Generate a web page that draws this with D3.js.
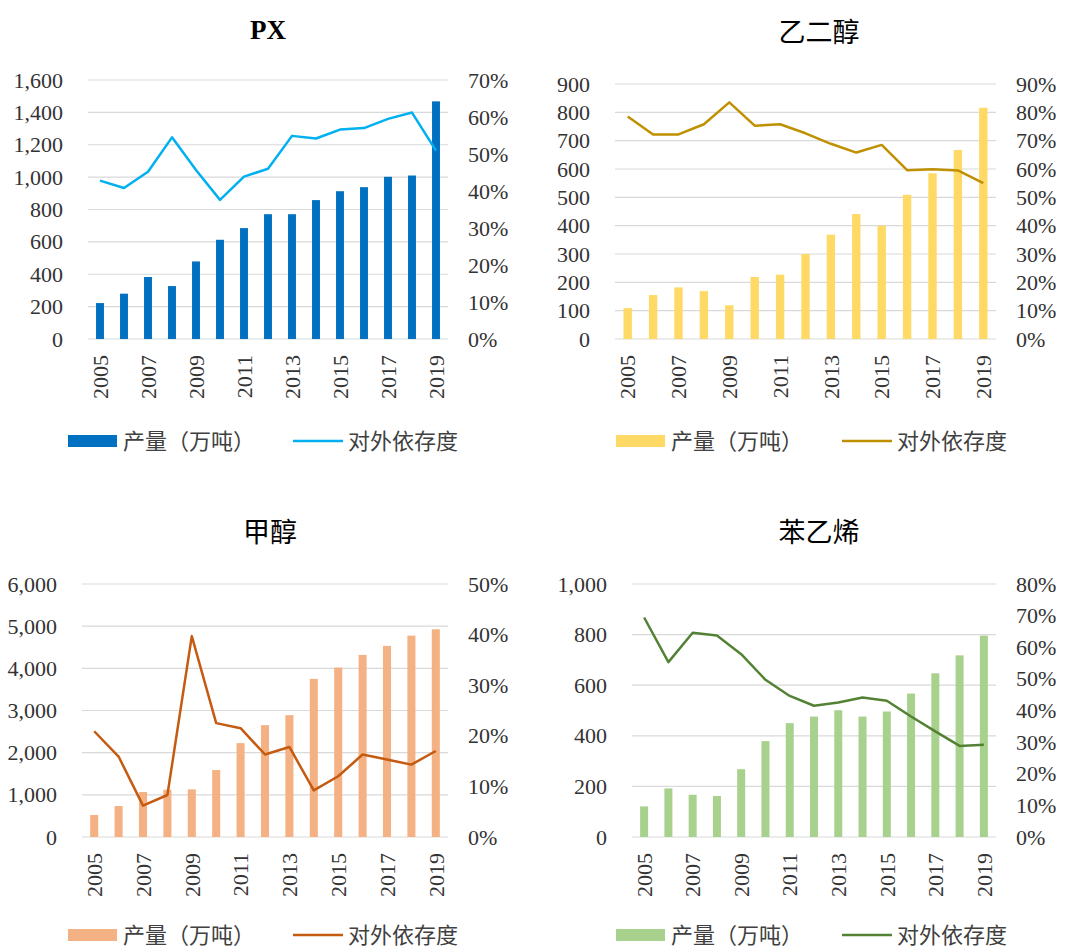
<!DOCTYPE html>
<html>
<head>
<meta charset="utf-8">
<script src="https://cdn.jsdelivr.net/npm/d3@7/dist/d3.min.js"></script>
<style>
  body { margin: 0; background: #fff; }
</style>
</head>
<body>
<svg id="chart"></svg>
<script>
// Years on the category axis
const YEARS = d3.range(2005, 2020);
const YEAR_LABELS = ['2005', '2007', '2009', '2011', '2013', '2015', '2017', '2019'];

// Output (10k tonnes) and import dependence (%) for each product
const pxOutput = [222, 280, 383, 327, 479, 613, 685, 771, 771, 858, 913, 938, 1002, 1010, 1468];
const pxDependence = [42.8, 40.8, 45.2, 54.5, 45.7, 37.6, 43.9, 46.0, 54.9, 54.2, 56.6, 57.0, 59.5, 61.2, 50.9];

const megOutput = [109, 155, 182, 169, 119, 219, 227, 300, 368, 441, 400, 509, 585, 667, 816];
const megDependence = [78.5, 72.2, 72.2, 75.8, 83.5, 75.3, 75.8, 72.6, 68.9, 65.8, 68.5, 59.6, 59.9, 59.5, 55.0];

const methanolOutput = [521, 734, 1066, 1121, 1129, 1587, 2226, 2653, 2889, 3750, 4018, 4318, 4532, 4776, 4926];
const methanolDependence = [20.9, 15.9, 6.2, 8.3, 39.7, 22.5, 21.5, 16.3, 17.8, 9.2, 12.0, 16.3, 15.3, 14.3, 17.0];

const styreneOutput = [121, 192, 167, 162, 268, 379, 450, 476, 501, 476, 496, 567, 647, 718, 796];
const styreneDependence = [69.4, 55.3, 64.6, 63.7, 57.8, 49.7, 44.6, 41.5, 42.5, 44.1, 43.1, 38.1, 33.4, 28.8, 29.2];

// Legend labels
const LEGEND_BAR = '产量（万吨）';
const LEGEND_LINE = '对外依存度';

// Fonts
const SERIF = '"Liberation Serif", "Times New Roman", serif';
const CJK = '"Noto Sans CJK SC", sans-serif';

// Canvas settings
const CANVAS_WIDTH = 1082;
const CANVAS_HEIGHT = 949;

const svg = d3.select('svg#chart')
    .attr('width', CANVAS_WIDTH)
    .attr('height', CANVAS_HEIGHT);

// One entry per panel: title, data, axis ranges and where to draw it
const panels = [
    {title: 'PX', titleSerif: true, output: pxOutput, dep: pxDependence,
     leftMax: 1600, leftStep: 200, rightMax: 70, rightStep: 10,
     barColor: '#0070C0', lineColor: '#00B0F0',
     x0: 88, x1: 448, yTop: 80, yBottom: 339, titleX: 268, titleY: 39, legendY: 441,
     legendX: 68, legendLineX: 293},
    {title: '乙二醇', output: megOutput, dep: megDependence,
     leftMax: 900, leftStep: 100, rightMax: 90, rightStep: 10,
     barColor: '#FFD966', lineColor: '#BF9000',
     x0: 615, x1: 996, yTop: 84, yBottom: 339, titleX: 819, titleY: 42, legendY: 441,
     legendX: 616, legendLineX: 842},
    {title: '甲醇', output: methanolOutput, dep: methanolDependence,
     leftMax: 6000, leftStep: 1000, rightMax: 50, rightStep: 10,
     barColor: '#F4B183', lineColor: '#C55A11',
     x0: 82, x1: 448, yTop: 584, yBottom: 837, titleX: 270, titleY: 542, legendY: 935,
     legendX: 68, legendLineX: 293},
    {title: '苯乙烯', output: styreneOutput, dep: styreneDependence,
     leftMax: 1000, leftStep: 200, rightMax: 80, rightStep: 10,
     barColor: '#A9D18E', lineColor: '#548235',
     x0: 632, x1: 996, yTop: 584, yBottom: 837, titleX: 819, titleY: 542, legendY: 935,
     legendX: 616, legendLineX: 842}
];

panels.forEach(drawPanel);

function styleNum(sel) {
    sel.attr('fill', '#333')
        .style('font-family', SERIF)
        .style('font-size', '22px');
}

function drawPanel(p) {
    const g = svg.append('g');

    const x = d3.scaleBand()
        .domain(YEARS)
        .range([p.x0, p.x1])
        .paddingInner(0.67)
        .paddingOuter(0.335);

    const yLeft = d3.scaleLinear().domain([0, p.leftMax]).range([p.yBottom, p.yTop]);
    const yRight = d3.scaleLinear().domain([0, p.rightMax]).range([p.yBottom, p.yTop]);

    // Gridlines (also serve as the zero line)
    const leftTicks = d3.range(0, p.leftMax + 1, p.leftStep);
    g.selectAll('line.grid').data(leftTicks).enter().append('line')
        .attr('x1', p.x0).attr('x2', p.x1)
        .attr('y1', d => yLeft(d)).attr('y2', d => yLeft(d))
        .attr('stroke', '#D9D9D9').attr('stroke-width', 1.2);

    // Left axis
    const leftAxis = d3.axisLeft(yLeft)
        .tickValues(leftTicks)
        .tickSize(0).tickPadding(20)
        .tickFormat(d3.format(','));
    const la = g.append('g').attr('transform', `translate(${p.x0 - 5},0)`).call(leftAxis);
    la.select('.domain').remove();
    la.selectAll('text').call(styleNum);

    // Right axis
    const rightAxis = d3.axisRight(yRight)
        .tickValues(d3.range(0, p.rightMax + 1, p.rightStep))
        .tickSize(0).tickPadding(20)
        .tickFormat(d => d + '%');
    const ra = g.append('g').attr('transform', `translate(${p.x1},0)`).call(rightAxis);
    ra.select('.domain').remove();
    ra.selectAll('text').call(styleNum);

    // Bottom axis: rotated year labels, every other year
    const bottomAxis = d3.axisBottom(x)
        .tickValues(YEAR_LABELS.map(Number))
        .tickSize(0).tickPadding(0);
    const ba = g.append('g').attr('transform', `translate(0,${p.yBottom})`).call(bottomAxis);
    ba.select('.domain').remove();
    ba.selectAll('text')
        .call(styleNum)
        .attr('transform', 'rotate(-90)')
        .attr('text-anchor', 'end')
        .attr('x', -16).attr('y', 0).attr('dy', '0.35em');

    // Bars
    g.selectAll('rect.bar').data(p.output).enter().append('rect')
        .attr('class', 'bar')
        .attr('x', (d, i) => x(YEARS[i]))
        .attr('width', x.bandwidth())
        .attr('y', d => yLeft(d))
        .attr('height', d => p.yBottom - yLeft(d))
        .attr('fill', p.barColor);

    // Dependence line
    const line = d3.line()
        .x((d, i) => x(YEARS[i]) + x.bandwidth() / 2)
        .y(d => yRight(d));
    g.append('path').datum(p.dep)
        .attr('d', line)
        .attr('fill', 'none')
        .attr('stroke', p.lineColor)
        .attr('stroke-width', 2.5)
        .attr('stroke-linejoin', 'round');

    // Title
    g.append('text')
        .attr('x', p.titleX).attr('y', p.titleY)
        .attr('text-anchor', 'middle')
        .style('font-family', p.titleSerif ? SERIF : CJK)
        .style('font-size', '27px')
        .style('font-weight', p.titleSerif ? 'bold' : 400)
        .attr('fill', '#000')
        .text(p.title);

    // Legend
    const lg = g.append('g').attr('transform', `translate(0,${p.legendY})`);
    lg.append('rect')
        .attr('x', p.legendX).attr('y', -6)
        .attr('width', 49).attr('height', 12)
        .attr('fill', p.barColor);
    lg.append('text')
        .attr('x', p.legendX + 55).attr('y', 0).attr('dy', '0.36em')
        .style('font-family', CJK).style('font-size', '22px')
        .attr('fill', '#404040')
        .text(LEGEND_BAR);
    lg.append('line')
        .attr('x1', p.legendLineX).attr('x2', p.legendLineX + 50)
        .attr('y1', 0).attr('y2', 0)
        .attr('stroke', p.lineColor).attr('stroke-width', 2.5);
    lg.append('text')
        .attr('x', p.legendLineX + 55).attr('y', 0).attr('dy', '0.36em')
        .style('font-family', CJK).style('font-size', '22px')
        .attr('fill', '#404040')
        .text(LEGEND_LINE);
}
</script>
</body>
</html>
